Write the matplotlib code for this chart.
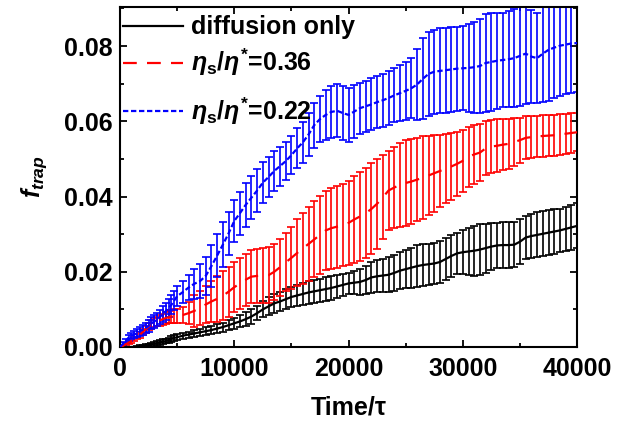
#!/usr/bin/env python3

import numpy as np
import matplotlib
matplotlib.use("Agg")
import matplotlib.pyplot as plt
from matplotlib.transforms import ScaledTranslation

# sampling times: every 250 up to 5000, then every 500
time = np.concatenate([np.arange(0, 5001, 250), np.arange(5500, 40001, 500)])

diff_mean = [
    0, 0, 0, 0, 0, 0, 0, 0.0001, 0.0002, 0.0003, 0.0004, 0.0006, 0.0008, 0.0010,
    0.0012, 0.0014, 0.0016, 0.0018, 0.0021, 0.0024, 0.0026,
    0.0030, 0.0033, 0.0036, 0.0039, 0.0042, 0.0045, 0.0049, 0.0053, 0.0058, 0.0063,
    0.0068, 0.0074, 0.0081, 0.0090, 0.0100, 0.0108, 0.0116, 0.0121, 0.0127, 0.0133,
    0.0137, 0.0141, 0.0145, 0.0148, 0.0151, 0.0154, 0.0157, 0.0161, 0.0165, 0.0169,
    0.0171, 0.0173, 0.0178, 0.0185, 0.0188, 0.0190, 0.0192, 0.0197, 0.0203, 0.0207,
    0.0211, 0.0215, 0.0218, 0.0220, 0.0222, 0.0226, 0.0234, 0.0242, 0.0249, 0.0252,
    0.0254, 0.0256, 0.0259, 0.0263, 0.0267, 0.0270, 0.0271, 0.0271, 0.0272, 0.0280,
    0.0291, 0.0295, 0.0298, 0.0301, 0.0304, 0.0307, 0.0310, 0.0314, 0.0318, 0.0322,
]
diff_err = [
    0, 0, 0, 0, 0, 0, 0.0002, 0.0003, 0.0003, 0.0004, 0.0004, 0.0005, 0.0005, 0.0005,
    0.0006, 0.0006, 0.0006, 0.0007, 0.0007, 0.0007, 0.0008,
    0.0008, 0.0008, 0.0009, 0.0010, 0.0010, 0.0011, 0.0011, 0.0012, 0.0013, 0.0015,
    0.0016, 0.0018, 0.0019, 0.0019, 0.0021, 0.0024, 0.0025, 0.0026, 0.0027, 0.0027,
    0.0028, 0.0029, 0.0030, 0.0030, 0.0031, 0.0031, 0.0031, 0.0030, 0.0029, 0.0028,
    0.0031, 0.0035, 0.0038, 0.0041, 0.0043, 0.0045, 0.0046, 0.0048, 0.0049, 0.0051,
    0.0053, 0.0055, 0.0055, 0.0055, 0.0055, 0.0056, 0.0056, 0.0055, 0.0055, 0.0058,
    0.0062, 0.0066, 0.0068, 0.0065, 0.0062, 0.0060, 0.0060, 0.0060, 0.0060, 0.0059,
    0.0058, 0.0059, 0.0060, 0.0060, 0.0060, 0.0059, 0.0058, 0.0059, 0.0060, 0.0060,
]

eta036_mean = [
    0, 0.0003, 0.0007, 0.0011, 0.0016, 0.0021, 0.0027, 0.0033, 0.0040, 0.0047, 0.0054,
    0.0060, 0.0064, 0.0068, 0.0071, 0.0074, 0.0077, 0.0079, 0.0081, 0.0082, 0.0083,
    0.0085, 0.0090, 0.0096, 0.0103, 0.0113, 0.0121, 0.0128, 0.0136, 0.0147, 0.0159,
    0.0169, 0.0179, 0.0187, 0.0189, 0.0190, 0.0191, 0.0200, 0.0212, 0.0225, 0.0237,
    0.0250, 0.0262, 0.0274, 0.0286, 0.0298, 0.0310, 0.0316, 0.0320, 0.0324, 0.0330,
    0.0339, 0.0347, 0.0356, 0.0367, 0.0381, 0.0398, 0.0416, 0.0424, 0.0431, 0.0436,
    0.0440, 0.0445, 0.0450, 0.0456, 0.0462, 0.0468, 0.0474, 0.0480, 0.0487, 0.0495,
    0.0506, 0.0512, 0.0517, 0.0528, 0.0533, 0.0535, 0.0538, 0.0540, 0.0545, 0.0550,
    0.0556, 0.0558, 0.0560, 0.0561, 0.0562, 0.0563, 0.0565, 0.0567, 0.0569, 0.0571,
]
eta036_err = [
    0, 0.0002, 0.0003, 0.0004, 0.0005, 0.0006, 0.0007, 0.0008, 0.0009, 0.0010, 0.0010,
    0.0011, 0.0012, 0.0013, 0.0014, 0.0015, 0.0015, 0.0016, 0.0017, 0.0018, 0.0019,
    0.0021, 0.0030, 0.0042, 0.0045, 0.0049, 0.0055, 0.0062, 0.0065, 0.0066, 0.0067,
    0.0068, 0.0069, 0.0070, 0.0072, 0.0073, 0.0074, 0.0075, 0.0076, 0.0077, 0.0083,
    0.0089, 0.0094, 0.0098, 0.0101, 0.0104, 0.0106, 0.0108, 0.0109, 0.0110, 0.0111,
    0.0115, 0.0118, 0.0120, 0.0121, 0.0120, 0.0112, 0.0104, 0.0108, 0.0112, 0.0114,
    0.0113, 0.0111, 0.0110, 0.0106, 0.0102, 0.0096, 0.0092, 0.0088, 0.0085, 0.0083,
    0.0080, 0.0078, 0.0076, 0.0072, 0.0070, 0.0070, 0.0068, 0.0066, 0.0063, 0.0060,
    0.0057, 0.0056, 0.0055, 0.0055, 0.0055, 0.0054, 0.0054, 0.0053, 0.0052, 0.0050,
]

eta022_mean = [
    0, 0.0008, 0.0016, 0.0025, 0.0029, 0.0033, 0.0037, 0.0042, 0.0046, 0.0051, 0.0056,
    0.0063, 0.0068, 0.0073, 0.0080, 0.0088, 0.0095, 0.0104, 0.0112, 0.0124, 0.0135,
    0.0146, 0.0158, 0.0168, 0.0175, 0.0189, 0.0215, 0.0243, 0.0272, 0.0302, 0.0335,
    0.0356, 0.0378, 0.0397, 0.0416, 0.0437, 0.0452, 0.0468, 0.0481, 0.0494, 0.0510,
    0.0528, 0.0544, 0.0565, 0.0590, 0.0606, 0.0617, 0.0625, 0.0628, 0.0622, 0.0617,
    0.0626, 0.0635, 0.0640, 0.0645, 0.0651, 0.0656, 0.0662, 0.0669, 0.0675, 0.0681,
    0.0688, 0.0698, 0.0713, 0.0726, 0.0732, 0.0734, 0.0736, 0.0738, 0.0740, 0.0741,
    0.0742, 0.0744, 0.0747, 0.0755, 0.0758, 0.0761, 0.0763, 0.0765, 0.0768, 0.0774,
    0.0780, 0.0772, 0.0768, 0.0780, 0.0790, 0.0796, 0.0801, 0.0804, 0.0807, 0.0808,
]
eta022_err = [
    0, 0.0004, 0.0006, 0.0008, 0.0009, 0.0010, 0.0011, 0.0012, 0.0013, 0.0014, 0.0015,
    0.0016, 0.0017, 0.0018, 0.0019, 0.0021, 0.0023, 0.0024, 0.0025, 0.0026, 0.0027,
    0.0029, 0.0033, 0.0040, 0.0045, 0.0050, 0.0055, 0.0058, 0.0060, 0.0058, 0.0056,
    0.0057, 0.0059, 0.0058, 0.0056, 0.0055, 0.0054, 0.0053, 0.0052, 0.0051, 0.0050,
    0.0053, 0.0055, 0.0058, 0.0060, 0.0062, 0.0066, 0.0070, 0.0071, 0.0072, 0.0072,
    0.0070, 0.0068, 0.0068, 0.0069, 0.0070, 0.0071, 0.0072, 0.0072, 0.0074, 0.0077,
    0.0080, 0.0095, 0.0108, 0.0111, 0.0112, 0.0113, 0.0113, 0.0112, 0.0112, 0.0112,
    0.0116, 0.0121, 0.0126, 0.0130, 0.0131, 0.0128, 0.0125, 0.0128, 0.0131, 0.0134,
    0.0133, 0.0124, 0.0120, 0.0128, 0.0135, 0.0135, 0.0134, 0.0132, 0.0131, 0.0130,
]

labels = ["diffusion only",
          r"$\eta_{\mathrm{s}}/\eta^{*}$=0.36",
          r"$\eta_{\mathrm{s}}/\eta^{*}$=0.22"]
colors = ["black", "red", "blue"]
styles = ["-", (0, (6.2, 4.6)), (0, (2.4, 1.2))]


def setup_fonts():
    plt.rcParams["font.family"] = ["Liberation Sans", "DejaVu Sans"]
    plt.rcParams["font.weight"] = "bold"
    plt.rcParams["mathtext.fontset"] = "custom"
    plt.rcParams["mathtext.rm"] = "Liberation Sans:bold"
    plt.rcParams["mathtext.it"] = "Liberation Sans:italic:bold"
    plt.rcParams["mathtext.bf"] = "Liberation Sans:bold"


def make_plot(output_file):
    setup_fonts()
    fig = plt.figure(figsize=(6.26, 4.23), dpi=100)
    ax = fig.add_axes([0.1917, 0.1797, 0.7302, 0.8038])

    series = [(diff_mean, diff_err), (eta036_mean, eta036_err), (eta022_mean, eta022_err)]
    for (mean, err), col, ls, lab in zip(series, colors, styles, labels):
        ax.errorbar(time, mean, yerr=err, fmt="none", ecolor=col,
                    elinewidth=1.2, capsize=3, capthick=1.2, zorder=2)
        ax.plot(time, mean, color=col, linestyle=ls, lw=1.6, label=lab, zorder=3)

    ax.set_xlim(0, 40000)
    ax.set_ylim(0, 0.0904)
    ax.set_xticks([0, 10000, 20000, 30000, 40000])
    ax.set_xticks(np.arange(5000, 40000, 10000), minor=True)
    ax.set_yticks([0, 0.02, 0.04, 0.06, 0.08])
    ax.set_yticks([0.01, 0.03, 0.05, 0.07, 0.09], minor=True)
    ax.set_yticklabels(["0.00", "0.02", "0.04", "0.06", "0.08"])

    ax.tick_params(which="both", direction="in", top=True, right=True, width=1.3)
    ax.tick_params(which="major", length=5, labelsize=18)
    ax.tick_params(axis="x", which="major", pad=7)
    ax.tick_params(axis="y", which="major", pad=5)
    ax.tick_params(which="minor", length=3)
    for sp in ax.spines.values():
        sp.set_linewidth(1.5)

    ax.set_xlabel("Time/τ", fontsize=18, fontweight="bold", labelpad=11)
    ax.set_ylabel(r"$f_{trap}$", fontsize=18, labelpad=11)

    leg = ax.legend(loc="upper left", bbox_to_anchor=(-0.005, 0.99), frameon=False,
                    fontsize=18, handlelength=2.4, handletextpad=0.32,
                    borderaxespad=0.1, borderpad=0.1, labelspacing=0.3)
    # the last entry sits a bit lower in the original
    shift = ScaledTranslation(0, -7 / 72, fig.dpi_scale_trans)
    for art in (leg.get_texts()[2], leg.get_lines()[2]):
        art.set_transform(art.get_transform() + shift)

    fig.savefig(output_file, dpi=100)
    plt.close(fig)


def main():
    make_plot("out.png")


if __name__ == "__main__":
    main()
